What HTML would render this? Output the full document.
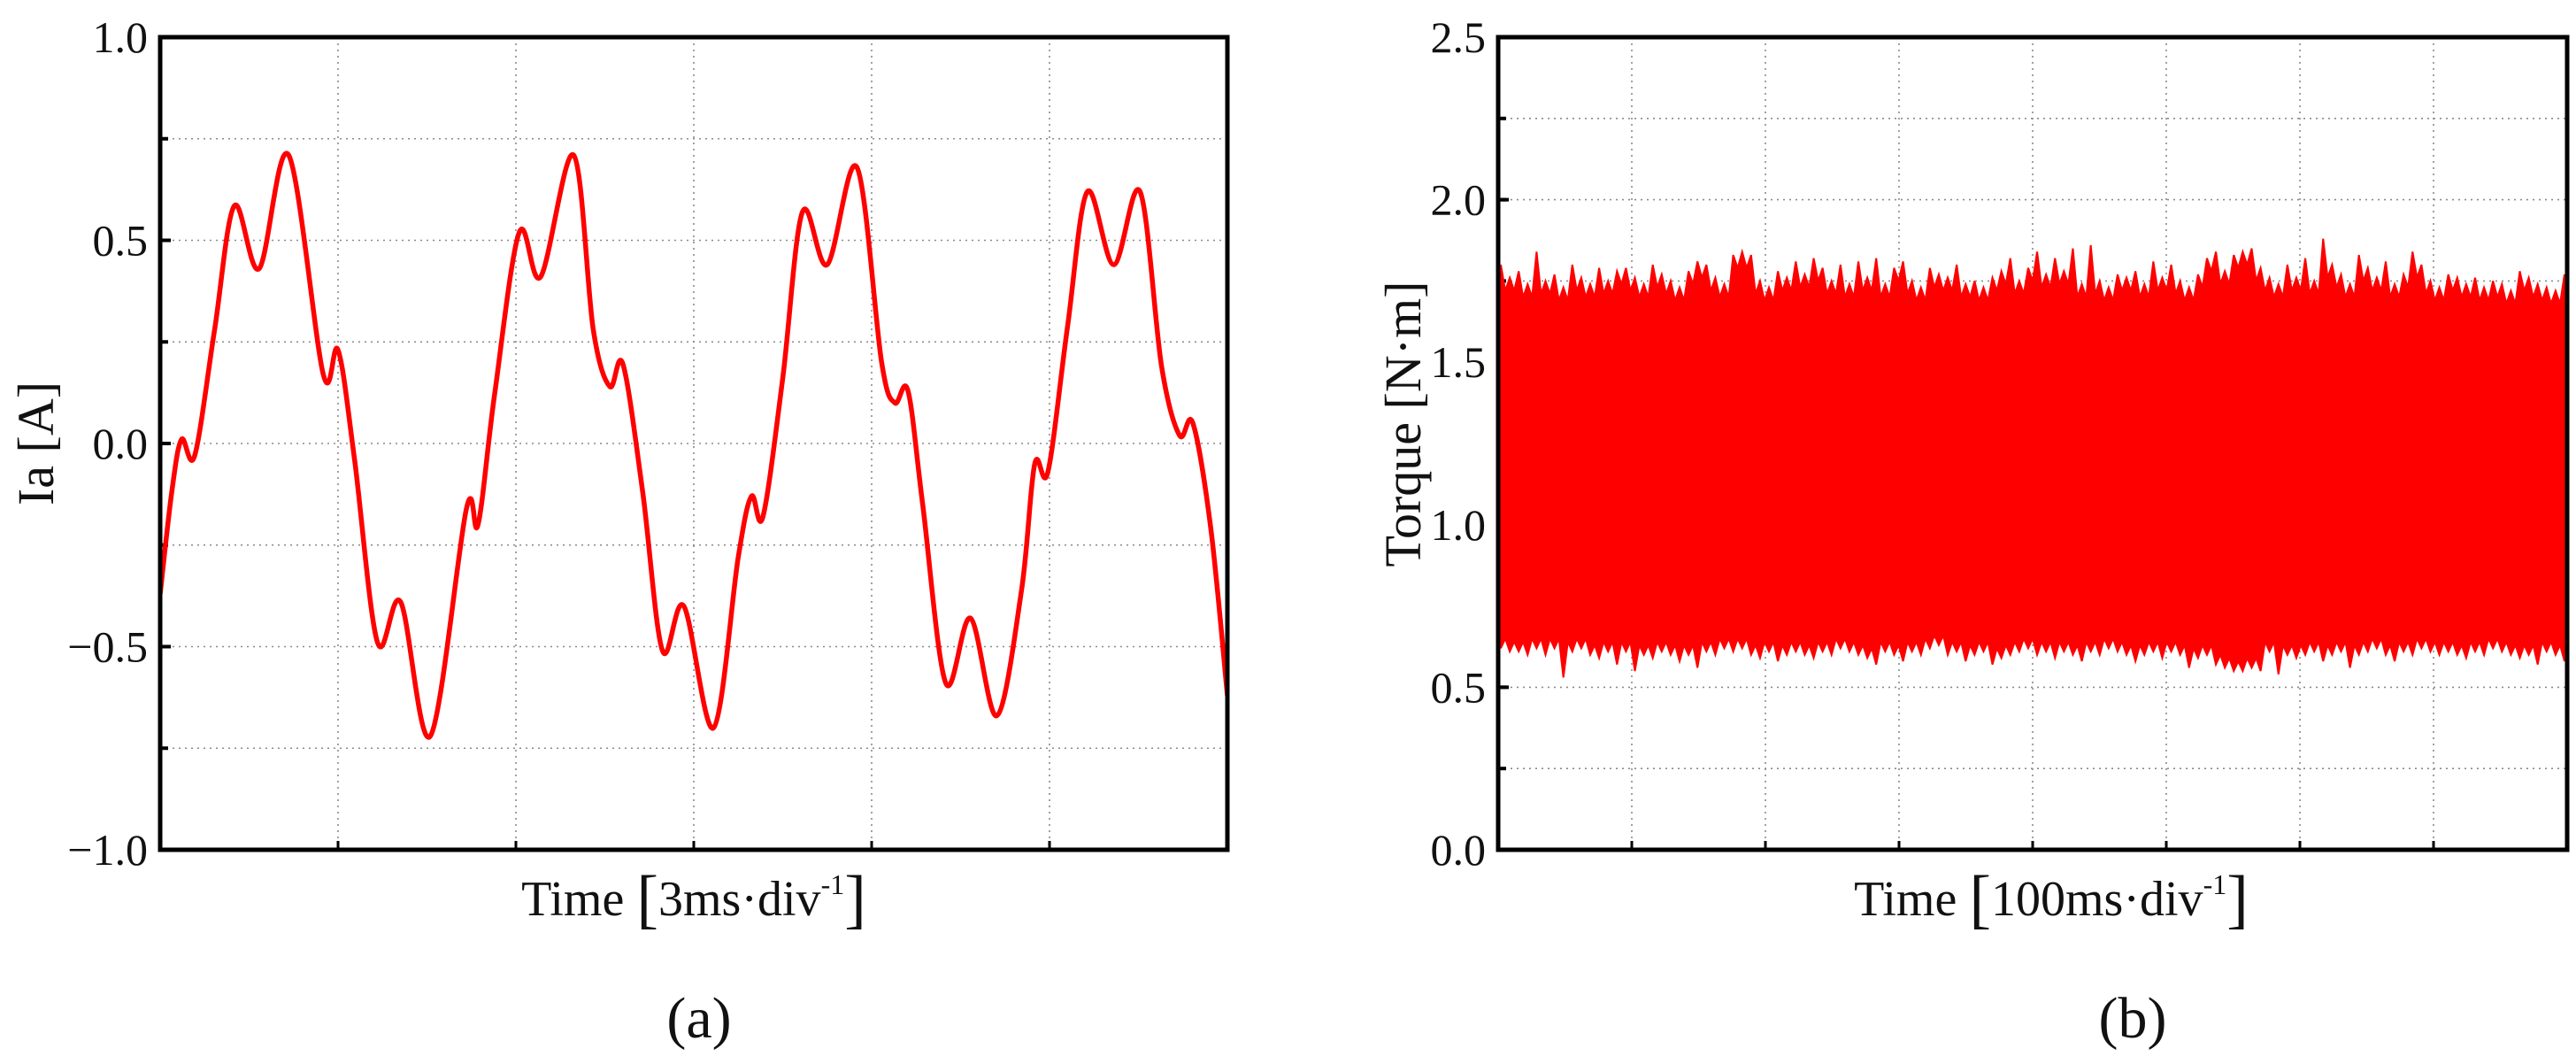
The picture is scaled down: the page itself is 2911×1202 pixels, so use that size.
<!DOCTYPE html>
<html><head><meta charset="utf-8"><style>
html,body{margin:0;padding:0;background:#fff;}
svg{display:block;}
text{font-family:"Liberation Serif",serif;fill:#111;}
</style></head><body>
<svg id="fig" width="2911" height="1202" viewBox="0 0 2911 1202" xmlns="http://www.w3.org/2000/svg">
<g id="pa"></g>
<g id="pb"></g>
</svg>
<script>
// ---- Chart (a) data: phase current ----
const iaTime = [0,0.065,0.120,0.194,0.306,0.417,0.556,0.722,0.917,1.0,1.093,1.222,1.352,1.519,1.722,1.787,1.880,2.019,2.139,2.324,2.435,2.528,2.602,2.713,2.824,2.944,3.111,3.250,3.324,3.389,3.5,3.611,3.750,3.917,4.056,4.130,4.204,4.287,4.417,4.556,4.704,4.843,4.917,4.991,5.102,5.213,5.361,5.509,5.630,5.731,5.806,5.907,6.0];
const iaValues = [-0.37,-0.12,0.01,-0.03,0.28,0.585,0.43,0.71,0.17,0.23,-0.04,-0.49,-0.39,-0.72,-0.16,-0.2,0.12,0.52,0.41,0.71,0.28,0.14,0.195,-0.12,-0.51,-0.40,-0.70,-0.28,-0.13,-0.18,0.16,0.57,0.44,0.68,0.20,0.10,0.13,-0.15,-0.59,-0.43,-0.67,-0.36,-0.05,-0.07,0.29,0.62,0.44,0.62,0.19,0.02,0.05,-0.21,-0.62];
const iaYTicks = [-1.0,-0.5,0.0,0.5,1.0];
const iaYTickLabels = ["\u22121.0","\u22120.5","0.0","0.5","1.0"];

// ---- Chart (b) data: torque envelope ----
const tqUpper = [1.80,1.76,1.78,1.74,1.84,1.75,1.77,1.73,1.80,1.76,1.74,1.79,1.75,1.78,1.79,1.76,1.74,1.80,1.77,1.75,
1.73,1.78,1.81,1.80,1.76,1.74,1.83,1.84,1.83,1.75,1.73,1.78,1.76,1.81,1.77,1.82,1.79,1.75,1.80,1.74,
1.81,1.76,1.82,1.74,1.79,1.81,1.75,1.73,1.79,1.77,1.76,1.80,1.74,1.75,1.73,1.76,1.78,1.82,1.75,1.79,
1.84,1.77,1.82,1.78,1.85,1.74,1.86,1.75,1.73,1.77,1.76,1.78,1.74,1.81,1.76,1.80,1.75,1.73,1.77,1.82,
1.84,1.78,1.83,1.84,1.85,1.79,1.76,1.74,1.80,1.76,1.82,1.75,1.88,1.80,1.77,1.74,1.83,1.79,1.76,1.81,
1.74,1.77,1.84,1.80,1.75,1.73,1.77,1.76,1.74,1.76,1.73,1.75,1.74,1.72,1.78,1.76,1.74,1.73,1.72,1.77];
const tqLower = [0.62,0.61,0.61,0.60,0.62,0.60,0.62,0.53,0.61,0.62,0.60,0.59,0.61,0.57,0.61,0.55,0.60,0.59,0.61,0.60,
0.58,0.60,0.56,0.61,0.60,0.62,0.61,0.62,0.60,0.59,0.61,0.58,0.60,0.61,0.60,0.59,0.61,0.60,0.62,0.61,
0.60,0.59,0.57,0.61,0.60,0.58,0.61,0.60,0.62,0.63,0.60,0.61,0.58,0.60,0.61,0.57,0.59,0.60,0.61,0.62,
0.60,0.61,0.59,0.61,0.60,0.58,0.61,0.60,0.62,0.61,0.60,0.58,0.60,0.61,0.59,0.61,0.60,0.56,0.59,0.60,
0.57,0.56,0.55,0.55,0.56,0.55,0.61,0.54,0.60,0.59,0.60,0.61,0.58,0.60,0.61,0.56,0.60,0.61,0.62,0.60,
0.58,0.61,0.60,0.62,0.61,0.60,0.61,0.60,0.59,0.61,0.60,0.62,0.61,0.60,0.59,0.60,0.57,0.61,0.60,0.58];
const tqYTicks = [0.0,0.5,1.0,1.5,2.0,2.5];
const tqYTickLabels = ["0.0","0.5","1.0","1.5","2.0","2.5"];

const NS="http://www.w3.org/2000/svg";
function mk(parent,tag,attrs,txt){const e=document.createElementNS(NS,tag);for(const k in attrs)e.setAttribute(k,attrs[k]);if(txt!==undefined)e.textContent=txt;parent.appendChild(e);return e;}

function drawFrame(g,L,R,T,B,nx,yMin,yMax,yStep,ticks,labels,yTitle,xUnitBase,cap,xTitleX,capX){
  const sy=v=>B-(v-yMin)/(yMax-yMin)*(B-T);
  for(let v=yMin+yStep;v<yMax-1e-9;v+=yStep){
    const l=mk(g,'line',{x1:L,x2:R,y1:sy(v),y2:sy(v),stroke:'#8a8a8a','stroke-width':1.6,'stroke-dasharray':'2 5'});
    
    
    const t=mk(g,'line',{x1:L,x2:L+9,y1:sy(v),y2:sy(v),stroke:'#000','stroke-width':4});
    
    
  }
  for(let i=1;i<nx;i++){
    const x=L+(R-L)*i/nx;
    const l=mk(g,'line',{x1:x,x2:x,y1:T,y2:B,stroke:'#8a8a8a','stroke-width':1.6,'stroke-dasharray':'2 5'});
    
    
    const t=mk(g,'line',{x1:x,x2:x,y1:B,y2:B-10,stroke:'#000','stroke-width':3});
    
    
  }
  ticks.forEach((v,i)=>{
    const t=mk(g,'line',{x1:L,x2:L+12,y1:sy(v),y2:sy(v),stroke:'#000','stroke-width':4});
    
    
    const lb=mk(g,'text',{x:L-14,y:sy(v)+17,'text-anchor':'end','font-size':50},labels[i]);
    
    
  });
  const yt=mk(g,'text',{x:0,y:0,'text-anchor':'middle','font-size':58,transform:`translate(${yTitle.x},${yTitle.y}) rotate(-90)`},yTitle.text);
  
  
  const xt=mk(g,'text',{x:xTitleX,y:1034,'text-anchor':'middle','font-size':56});
  
  
  mk(xt,'tspan',{},'Time ');
  mk(xt,'tspan',{'font-size':74,dy:6},'[');
  mk(xt,'tspan',{dy:-6},xUnitBase+'\u00B7div');
  mk(xt,'tspan',{'font-size':32,dy:-24},'-1');
  mk(xt,'tspan',{'font-size':74,dy:30},']');
  const c=mk(g,'text',{x:capX,y:1172,'text-anchor':'middle','font-size':66},cap);
  
  
  return sy;
}

// ---- Panel (a) ----
(function(){
  const g=document.getElementById('pa');
  const L=181,R=1387,T=42,B=960;
  const sy=drawFrame(g,L,R,T,B,6,-1,1,0.25,iaYTicks,iaYTickLabels,{x:60,y:501,text:'Ia [A]'},
    '3ms','(a)',784,790);
  const sx=t=>L+t/6*(R-L);
  const cp=document.createElementNS(NS,'clipPath');cp.setAttribute('id','ca');g.appendChild(cp);
  mk(cp,'rect',{x:L,y:T,width:R-L,height:B-T});
  const pts=iaTime.map((t,i)=>[sx(t),sy(iaValues[i])]);
  let d=`M${pts[0][0]},${pts[0][1]}`;
  for(let i=0;i<pts.length-1;i++){
    const p0=pts[Math.max(0,i-1)],p1=pts[i],p2=pts[i+1],p3=pts[Math.min(pts.length-1,i+2)];
    const c1=[p1[0]+(p2[0]-p0[0])/6,p1[1]+(p2[1]-p0[1])/6];
    const c2=[p2[0]-(p3[0]-p1[0])/6,p2[1]-(p3[1]-p1[1])/6];
    d+=` C${c1[0]},${c1[1]} ${c2[0]},${c2[1]} ${p2[0]},${p2[1]}`;
  }
  const line=mk(g,'path',{d:d,fill:'none',stroke:'#ff0000','stroke-width':5.5,'clip-path':'url(#ca)','stroke-linejoin':'round'});
  
  
  const fr=mk(g,'rect',{x:L,y:T,width:R-L,height:B-T,fill:'none',stroke:'#000','stroke-width':5});
  
  
})();

// ---- Panel (b) ----
(function(){
  const g=document.getElementById('pb');
  const L=1693,R=2901,T=42,B=960;
  const sy=drawFrame(g,L,R,T,B,8,0,2.5,0.25,tqYTicks,tqYTickLabels,{x:1605,y:479,text:'Torque [N\u00B7m]'},
    '100ms','(b)',2318,2410);
  const n=tqUpper.length;
  const sx=i=>L+3+i/(n-1)*(R-L-6);
  let d='';
  for(let i=0;i<n;i++){
    const x=sx(i);
    d+=(i?'L':'M')+x+','+sy(tqUpper[i])+' ';
    if(i<n-1){const xm=(x+sx(i+1))/2;d+='L'+xm+','+sy(Math.min(tqUpper[i],tqUpper[i+1])-0.04)+' ';}
  }
  for(let i=n-1;i>=0;i--){
    const x=sx(i);
    if(i<n-1){const xm=(x+sx(i+1))/2;d+='L'+xm+','+sy(Math.max(tqLower[i],tqLower[i+1])+0.03)+' ';}
    d+='L'+x+','+sy(tqLower[i])+' ';
  }
  d+='Z';
  const band=mk(g,'path',{d:d,fill:'#ff0000',stroke:'#ff0000','stroke-width':2});
  
  
  const fr=mk(g,'rect',{x:L,y:T,width:R-L,height:B-T,fill:'none',stroke:'#000','stroke-width':5});
  
  
})();
</script>
</body></html>
